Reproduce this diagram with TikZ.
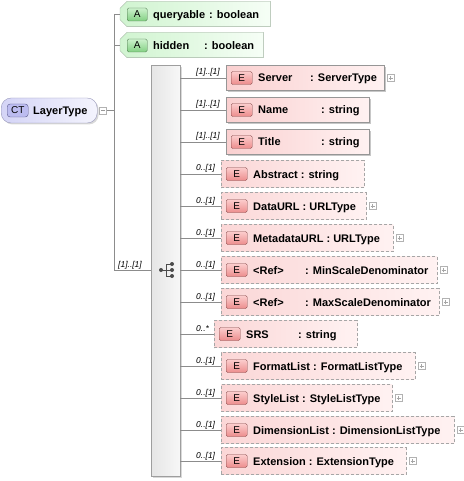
\documentclass[tikz,border=0pt]{standalone}
\usepackage{fontspec}
\setmainfont{Liberation Sans}
\usetikzlibrary{shadows}
\definecolor{ctLeft}{RGB}{212,212,246}
\definecolor{ctRight}{RGB}{244,244,253}
\definecolor{ctLine}{RGB}{150,150,185}
\definecolor{ctBadge}{RGB}{188,188,240}
\definecolor{ctBadgeLine}{RGB}{90,90,140}
\definecolor{attLeft}{RGB}{208,244,208}
\definecolor{attRight}{RGB}{246,254,246}
\definecolor{attLine}{RGB}{165,185,165}
\definecolor{attBadgeTop}{RGB}{205,242,205}
\definecolor{attBadgeBot}{RGB}{130,208,130}
\definecolor{attBadgeLine}{RGB}{70,110,70}
\definecolor{elLeft}{RGB}{250,208,208}
\definecolor{elRight}{RGB}{255,242,242}
\definecolor{elLine}{RGB}{150,150,150}
\definecolor{elBadgeTop}{RGB}{252,205,205}
\definecolor{elBadgeBot}{RGB}{236,140,140}
\definecolor{elBadgeLine}{RGB}{130,70,70}

\tikzset{
  lbl/.style={font=\fontsize{11}{13}\selectfont\bfseries, inner sep=0pt},
  mult/.style={font=\fontsize{8.5}{10}\selectfont\itshape, inner sep=0pt},
  link/.style={draw=black!45, line width=0.6pt},
  badge/.style={rounded corners=1.5pt, minimum width=21pt, minimum height=13pt,
    inner sep=0pt, font=\fontsize{10}{12}\selectfont},
  ebadge/.style={badge, draw=elBadgeLine, top color=elBadgeTop, bottom color=elBadgeBot},
  abadge/.style={badge, minimum width=20pt, draw=attBadgeLine, top color=attBadgeTop, bottom color=attBadgeBot},
  reqbox/.style={draw=elLine, left color=elLeft, right color=elRight, minimum height=25pt,
    general shadow={shadow xshift=1.5pt, shadow yshift=-1.5pt, fill=black!22}},
  optbox/.style={draw=elLine!85, dash pattern=on 3pt off 2pt, line width=0.7pt,
    left color=elLeft!85!white, right color=elRight, minimum height=27pt},
  attbox/.style={rectangle, minimum height=25pt, inner sep=0pt},
  attshape/.style={draw=attLine, left color=attLeft, right color=attRight},
  plusbox/.style={draw=black!30, fill=white, minimum size=7pt, inner sep=0pt},
  seqbox/.style={draw=black!38, left color=black!10, right color=black!3, inner sep=0pt,
    general shadow={shadow xshift=1.5pt, shadow yshift=-1.5pt, fill=black!15}}
}

\begin{document}
\begin{tikzpicture}[x=1pt, y=-1pt]
    \useasboundingbox (0,0) rectangle (463,481);
    % complex type
    \node[draw=ctLine, left color=ctLeft, right color=ctRight, rounded corners=10pt,
      minimum width=96pt, minimum height=25pt, anchor=west,
      general shadow={shadow xshift=1.5pt, shadow yshift=-1.5pt, fill=black!15}] (ct) at (1,110.5) {};
    \node[badge, draw=ctBadgeLine, fill=ctBadge, rounded corners=3pt, anchor=west] (ctb) at (7,110.5) {CT};
    \node[lbl, anchor=base west] (ctn) at (33,114.5) {LayerType};
    \node[plusbox] (ctm) at (103,110.5) {};
    \draw[black!40] ([xshift=-2pt]ctm.center) -- ([xshift=2pt]ctm.center);
    \coordinate (tree) at (114,110.5);
    \coordinate (seqy) at (0,270);
    \draw[link] (ctm.east) -- (tree);
    % attributes
    \node[attbox, minimum width=150pt, anchor=west] (att1) at (120,14) {};
    \node[attbox, minimum width=143pt, anchor=west] (att2) at (120,45) {};
    \foreach \a in {att1,att2}{
      \fill[black!18, xshift=1.5pt, yshift=-1.5pt] ([xshift=7pt]\a.north west) -- (\a.north east)
        -- (\a.south east) -- ([xshift=7pt]\a.south west) -- ([yshift=7pt]\a.south west)
        -- ([yshift=-7pt]\a.north west) -- cycle;
      \path[attshape] ([xshift=7pt]\a.north west) -- (\a.north east)
        -- (\a.south east) -- ([xshift=7pt]\a.south west) -- ([yshift=7pt]\a.south west)
        -- ([yshift=-7pt]\a.north west) -- cycle;
      \draw[link] (tree |- \a.west) -- (\a.west);
    }
    \node[abadge, anchor=west] (ab1) at (127,14.5) {A};
    \node[lbl, anchor=base west] (an1) at (153,18.5) {queryable};
    \node[lbl, anchor=base west] (at1) at (209,18.5) {: boolean};
    \node[abadge, anchor=west] (ab2) at (127,45.5) {A};
    \node[lbl, anchor=base west] (an2) at (153,49.5) {hidden};
    \node[lbl, anchor=base west] (at2) at (204,49.5) {: boolean};
    \draw[link] (tree |- att1.west) -- (tree |- seqy);
    % sequence
    \node[seqbox, minimum width=29pt, minimum height=411pt, anchor=north west] (seq) at (151,65) {};
    \draw[link] (tree |- seqy) -- (seq.west |- seqy);
    \node[mult, anchor=base west] (sm) at (118,267) {[1]..[1]};
    \draw[black!70, line width=0.8pt] (161,270) -- (166,270) (166,264) -- (166,276)
      (166,264) -- (172,264) (166,270) -- (172,270) (166,276) -- (172,276);
    \foreach \p in {(161,270),(172,264),(172,270),(172,276)}
      \fill[black!70] \p circle (2pt);
    % elements (colon column 0 = text runs on)
    \foreach \i/\y/\xl/\xr/\mt/\nm/\cx/\ty/\st/\pl in {
      1/78/226/384/{[1]..[1]}/Server/310/ServerType/reqbox/1,
      2/110/226/369/{[1]..[1]}/Name/321/string/reqbox/0,
      3/142/226/369/{[1]..[1]}/Title/321/string/reqbox/0,
      4/174/221/364/{0..[1]}/Abstract/0/string/optbox/0,
      5/206/221/366/{0..[1]}/DataURL/0/URLType/optbox/1,
      6/238/221/393/{0..[1]}/MetadataURL/0/URLType/optbox/1,
      7/270/221/437/{0..[1]}/{<Ref>}/305/MinScaleDenominator/optbox/1,
      8/302/221/439/{0..[1]}/{<Ref>}/305/MaxScaleDenominator/optbox/1,
      9/334/214/357/{0..*}/SRS/298/string/optbox/0,
      10/366/221/415/{0..[1]}/FormatList/0/FormatListType/optbox/1,
      11/398/221/392/{0..[1]}/StyleList/0/StyleListType/optbox/1,
      12/430/221/454/{0..[1]}/DimensionList/0/DimensionListType/optbox/1,
      13/461/221/406/{0..[1]}/Extension/0/ExtensionType/optbox/1}{
      \node[\st, minimum width=\xr-\xl, anchor=west] (el\i) at (\xl,\y) {};
      \node[ebadge, anchor=west] (eb\i) at ([xshift=5pt]el\i.west) {E};
      \ifnum\cx=0
        \node[lbl, anchor=base west] (en\i) at (\xl+32,\y+4) {\nm\ : \ty};
      \else
        \node[lbl, anchor=base west] (en\i) at (\xl+32,\y+4) {\nm};
        \node[lbl, anchor=base west] (et\i) at (\cx,\y+4) {: \ty};
      \fi
      \node[mult, anchor=base west] (em\i) at (196,\y-3) {\mt};
      \draw[link] (seq.east |- el\i.west) -- (el\i.west);
      \ifnum\pl=1
        \node[plusbox] (pl\i) at (\xr+6.5,\y) {};
        \draw[black!35] ([xshift=-2pt]pl\i.center) -- ([xshift=2pt]pl\i.center)
          ([yshift=-2pt]pl\i.center) -- ([yshift=2pt]pl\i.center);
      \fi
    }
\end{tikzpicture}
\end{document}
